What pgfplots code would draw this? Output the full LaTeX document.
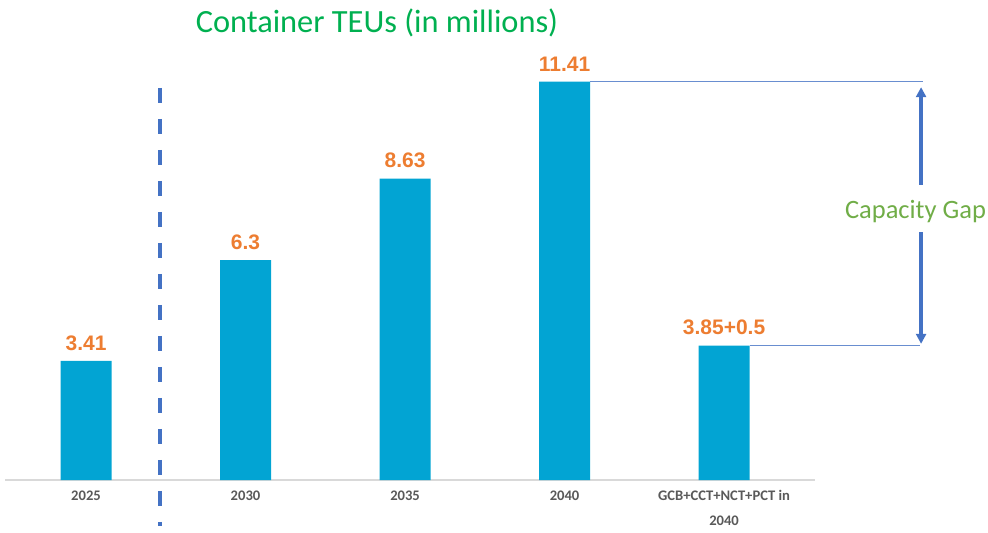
\documentclass[border=0pt]{standalone}
\usepackage{pgfplots}
\pgfplotsset{compat=1.18}
\usepackage{fontspec}
\setmainfont{Carlito}
\newfontfamily\arialf{Liberation Sans}
\definecolor{barblue}{HTML}{02A4D3}
\definecolor{lblorange}{HTML}{ED7D31}
\definecolor{titlegreen}{HTML}{00B050}
\definecolor{gapgreen}{HTML}{70AD47}
\definecolor{linblue}{HTML}{4472C4}
\definecolor{ticktext}{HTML}{595959}
\usetikzlibrary{arrows.meta}
\begin{document}
\begin{tikzpicture}
\useasboundingbox (0,0) rectangle (988bp,533bp);
\node[text=titlegreen, font=\fontsize{32.4bp}{36bp}\selectfont] at (377bp,510bp) {Container TEUs (in millions)};
\begin{axis}[
  at={(5bp,53bp)}, anchor=south west,
  scale only axis, width=810bp, height=419bp,
  xmin=-0.508, xmax=4.57, ymin=0, ymax=12,
  clip=false,
  axis x line=bottom, axis y line=none,
  x axis line style={draw=black!15, line width=1.2bp, -},
  xtick={0,1,2,3,4},
  xticklabels={2025,2030,2035,2040,{GCB+CCT+NCT+PCT in\\2040}},
  xticklabel style={align=center, text=ticktext, font=\bfseries\fontsize{14.6bp}{25bp}\selectfont, yshift=-7bp},
  major tick length=0pt,
  ytick=\empty,
  bar width=51bp,
  nodes near coords,
  point meta=explicit symbolic,
  nodes near coords style={text=lblorange, font=\arialf\bfseries\fontsize{21bp}{23bp}\selectfont, yshift=7bp},
]
\addplot[ybar, fill=barblue, draw=none] coordinates {
 (0,3.41) [3.41]
 (1,6.3) [6.3]
 (2,8.63) [8.63]
 (3,11.41) [11.41]
 (4,3.85) [3.85+0.5]
};
\draw[linblue, line width=4bp, dash pattern=on 15bp off 16bp] (axis cs:0.464,11.23) -- (axis cs:0.464,-1.33);
\draw[linblue!80, line width=1.3bp] (axis cs:3.16,11.41) -- (axis cs:5.245,11.41);
\draw[linblue!80, line width=1.3bp] (axis cs:4.16,3.85) -- (axis cs:5.23,3.85);
\draw[linblue, line width=3.2bp, -{Triangle[length=10bp,width=10bp]}] (axis cs:5.235,8.45) -- (axis cs:5.235,11.25);
\draw[linblue, line width=3.2bp, -{Triangle[length=10bp,width=10bp]}] (axis cs:5.235,7.1) -- (axis cs:5.235,3.9);
\node[text=gapgreen, font=\fontsize{26.5bp}{30bp}\selectfont] at (axis cs:5.2,7.7) {Capacity Gap};
\end{axis}
\end{tikzpicture}
\end{document}
